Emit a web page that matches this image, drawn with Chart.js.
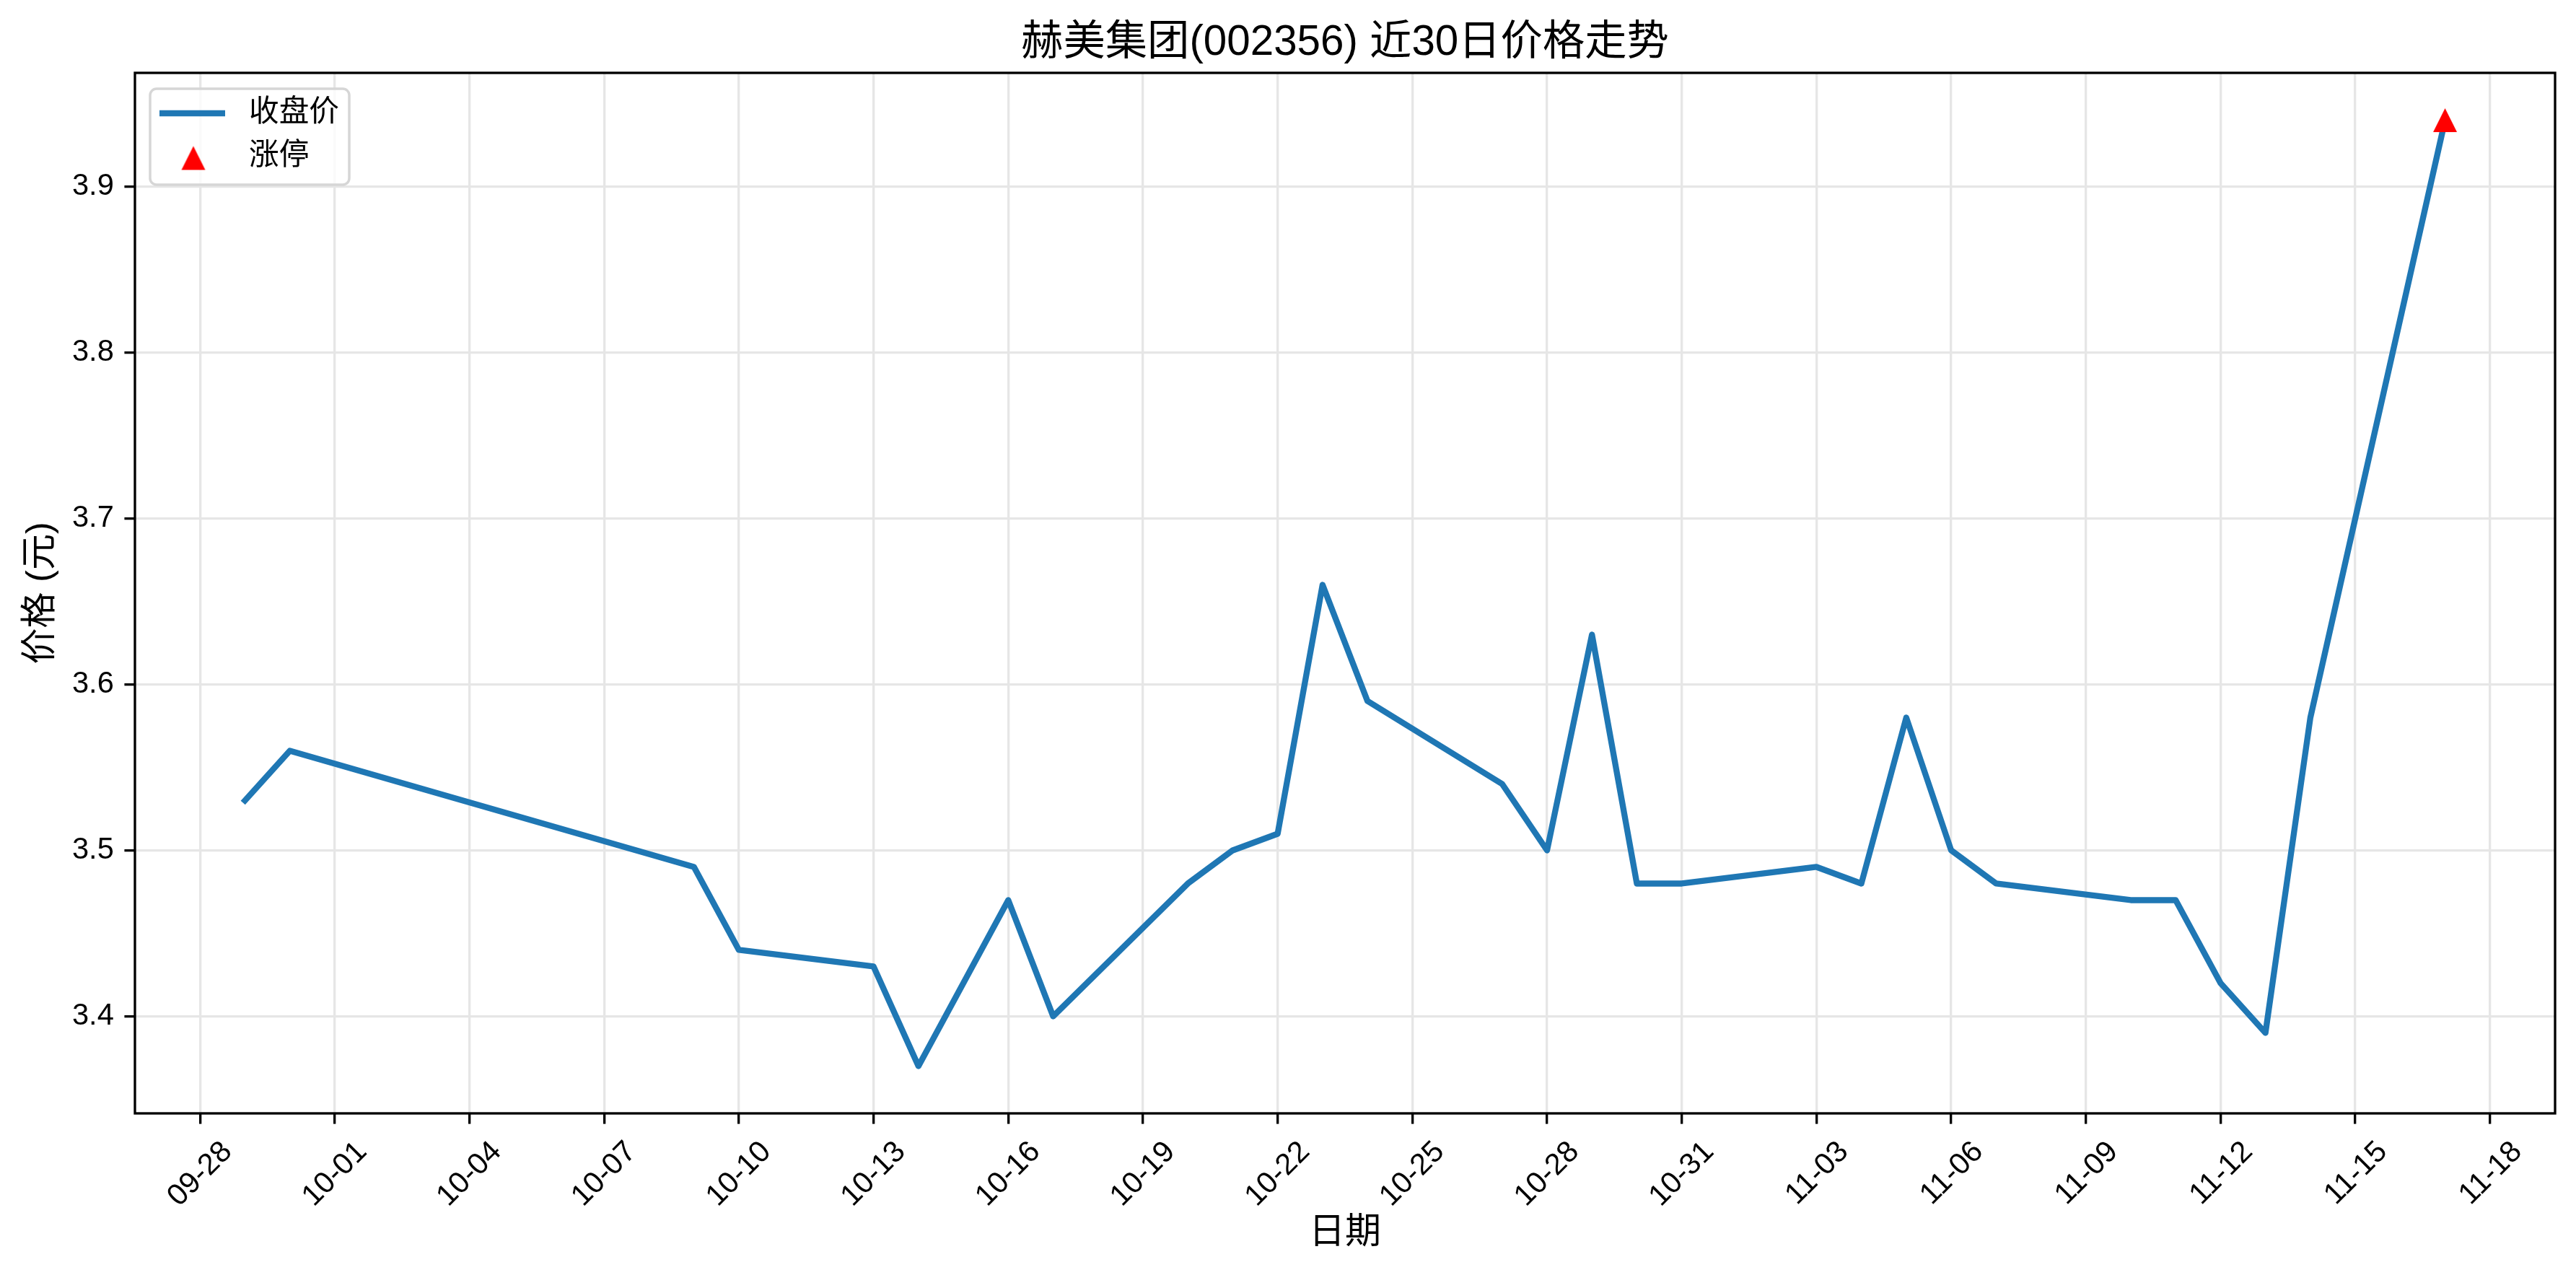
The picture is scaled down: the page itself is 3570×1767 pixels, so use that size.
<!DOCTYPE html>
<html>
<head>
<meta charset="utf-8">
<title>赫美集团(002356) 近30日价格走势</title>
<script src="https://cdn.jsdelivr.net/npm/chart.js@4.4.1/dist/chart.umd.min.js"></script>
<style>
    body { margin: 0; background: #ffffff; }
    canvas { display: block; }
</style>
</head>
<body>
<canvas id="priceChart" width="3570" height="1767"></canvas>
<script>
// Closing prices
var year = 2025;
var dates = ['09-29', '09-30', '10-09', '10-10', '10-13', '10-14', '10-16', '10-17',
             '10-20', '10-21', '10-22', '10-23', '10-24', '10-27', '10-28', '10-29',
             '10-30', '10-31', '11-03', '11-04', '11-05', '11-06', '11-07', '11-10',
             '11-11', '11-12', '11-13', '11-14', '11-17'];
var closes = [3.53, 3.56, 3.49, 3.44, 3.43, 3.37, 3.47, 3.40,
              3.48, 3.50, 3.51, 3.66, 3.59, 3.54, 3.50, 3.63,
              3.48, 3.48, 3.49, 3.48, 3.58, 3.50, 3.48, 3.47,
              3.47, 3.42, 3.39, 3.58, 3.94];

// Limit-up days
var limitUpDates = ['11-17'];
var limitUpPrices = [3.94];

// Axis ticks
var xTickLabels = ['09-28', '10-01', '10-04', '10-07', '10-10', '10-13', '10-16', '10-19', '10-22',
                   '10-25', '10-28', '10-31', '11-03', '11-06', '11-09', '11-12', '11-15', '11-18'];
var yTicks = [3.4, 3.5, 3.6, 3.7, 3.8, 3.9];

var chartTitle = '赫美集团(002356) 近30日价格走势';

var FONT = "'Liberation Sans', 'Noto Sans CJK SC', sans-serif";
var PT = 300 / 72;   // one point in pixels

// days since 09-28
function dayNum(label) {
    var p = label.split('-');
    return (Date.UTC(year, +p[0] - 1, +p[1]) - Date.UTC(year, 8, 28)) / 86400000;
}

function toPoints(labels, values) {
    return labels.map(function (d, i) { return { x: dayNum(d), y: values[i] }; });
}

// matplotlib style 5% margins
var xs = dates.map(dayNum);
var xSpan = xs[xs.length - 1] - xs[0];
var yLo = Math.min.apply(null, closes.concat(limitUpPrices));
var yHi = Math.max.apply(null, closes.concat(limitUpPrices));
var ySpan = yHi - yLo;

// triangle marker centred on its box, like matplotlib's '^'
function triangleMarker(size, color) {
    var c = document.createElement('canvas');
    c.width = size + 4;
    c.height = size + 4;
    var g = c.getContext('2d');
    var m = c.width / 2, s = size / 2;
    g.beginPath();
    g.moveTo(m, m - s);
    g.lineTo(m + s, m + s);
    g.lineTo(m - s, m + s);
    g.closePath();
    g.fillStyle = color;
    g.fill();
    return c;
}
var redTriangle = triangleMarker(33, '#ff0000');

// title centred over the plot, black box round the plot
var framePlugin = {
    id: 'frame',
    afterDatasetsDraw: function (chart) {
        var a = chart.chartArea, ctx = chart.ctx;
        ctx.save();
        ctx.strokeStyle = '#000000';
        ctx.lineWidth = 0.8 * PT;
        ctx.strokeRect(a.left, a.top, a.right - a.left, a.bottom - a.top);

        ctx.font = (14 * PT) + 'px ' + FONT;
        ctx.fillStyle = '#000000';
        ctx.textAlign = 'center';
        ctx.textBaseline = 'middle';
        ctx.fillText(chartTitle, (a.left + a.right) / 2, 60);
        ctx.restore();
    }
};

// legend in the upper left corner of the plot
var legendPlugin = {
    id: 'innerLegend',
    afterDatasetsDraw: function (chart) {
        var ctx = chart.ctx, a = chart.chartArea;
        var ds = chart.data.datasets;
        var x0 = a.left + 21, y0 = a.top + 22, w = 276, h = 133, r = 9;
        ctx.save();
        ctx.beginPath();
        ctx.roundRect(x0, y0, w, h, r);
        ctx.fillStyle = 'rgba(255,255,255,0.8)';
        ctx.fill();
        ctx.strokeStyle = '#d6d6d6';
        ctx.lineWidth = 3.5;
        ctx.stroke();

        ctx.font = (10 * PT) + 'px ' + FONT;
        ctx.fillStyle = '#000000';
        ctx.textBaseline = 'middle';
        ctx.textAlign = 'left';

        // line sample
        var rowY = y0 + 34;
        ctx.beginPath();
        ctx.moveTo(x0 + 13, rowY);
        ctx.lineTo(x0 + 104, rowY);
        ctx.strokeStyle = ds[0].borderColor;
        ctx.lineWidth = ds[0].borderWidth;
        ctx.stroke();
        ctx.fillText(ds[0].label, x0 + 137, rowY);

        // marker sample
        rowY = y0 + 96;
        var cx = x0 + 60;
        ctx.drawImage(redTriangle, cx - redTriangle.width / 2, rowY - redTriangle.height / 2);
        ctx.fillText(ds[1].label, x0 + 137, rowY - 2);
        ctx.restore();
    }
};

var ctx = document.getElementById('priceChart').getContext('2d');

var priceChart = new Chart(ctx, {
    type: 'line',
    data: {
        datasets: [{
            label: '收盘价',
            data: toPoints(dates, closes),
            order: 1,
            borderColor: '#1f77b4',
            backgroundColor: '#1f77b4',
            borderWidth: 2 * PT,
            borderJoinStyle: 'round',
            borderCapStyle: 'square',
            pointRadius: 0,
            tension: 0,
            fill: false
        }, {
            label: '涨停',
            data: toPoints(limitUpDates, limitUpPrices),
            order: 0,
            showLine: false,
            pointStyle: redTriangle,
            pointRadius: 19,
            backgroundColor: '#ff0000',
            borderColor: '#ff0000'
        }]
    },
    options: {
        responsive: false,
        animation: false,
        devicePixelRatio: 1,
        layout: {
            padding: { left: 0, right: 29, top: 101, bottom: 0 }
        },
        plugins: {
            legend: { display: false },
            tooltip: { enabled: false },
            title: { display: false }
        },
        scales: {
            x: {
                type: 'linear',
                min: xs[0] - 0.05 * xSpan,
                max: xs[xs.length - 1] + 0.05 * xSpan,
                afterBuildTicks: function (axis) {
                    axis.ticks = xTickLabels.map(function (l) { return { value: dayNum(l) }; });
                },
                afterFit: function (axis) { axis.height = 1767 - 1543; },
                ticks: {
                    autoSkip: false,
                    maxRotation: 45,
                    minRotation: 45,
                    padding: 3.5 * PT,
                    labelOffset: 38,
                    color: '#000000',
                    font: { family: FONT, size: 10 * PT },
                    callback: function (value, index) { return xTickLabels[index]; }
                },
                grid: {
                    color: '#e6e6e6',
                    lineWidth: 0.8 * PT,
                    tickColor: '#000000',
                    tickWidth: 0.8 * PT,
                    tickLength: 3.5 * PT
                },
                border: { display: false },
                title: {
                    display: true,
                    text: '日期',
                    color: '#000000',
                    font: { family: FONT, size: 12 * PT, lineHeight: 1.2 },
                    padding: { top: 0, bottom: 28 }
                }
            },
            y: {
                min: yLo - 0.05 * ySpan,
                max: yHi + 0.05 * ySpan,
                afterBuildTicks: function (axis) {
                    axis.ticks = yTicks.map(function (v) { return { value: v }; });
                },
                afterFit: function (axis) { axis.width = 187; },
                ticks: {
                    padding: 3.5 * PT,
                    color: '#000000',
                    font: { family: FONT, size: 10 * PT },
                    callback: function (value) { return value.toFixed(1); }
                },
                grid: {
                    color: '#e6e6e6',
                    lineWidth: 0.8 * PT,
                    tickColor: '#000000',
                    tickWidth: 0.8 * PT,
                    tickLength: 3.5 * PT
                },
                border: { display: false },
                title: {
                    display: true,
                    text: '价格 (元)',
                    color: '#000000',
                    font: { family: FONT, size: 12 * PT, lineHeight: 1.2 },
                    padding: { top: 27, bottom: 0 }
                }
            }
        }
    },
    plugins: [framePlugin, legendPlugin]
});
</script>
</body>
</html>
